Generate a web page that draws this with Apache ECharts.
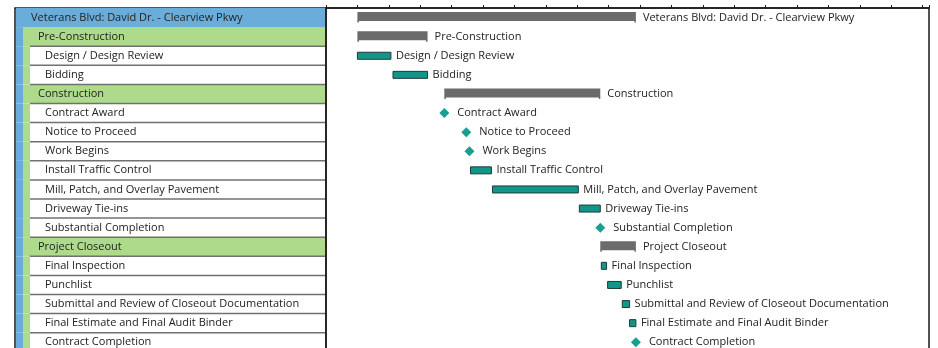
<!DOCTYPE html>
<html>
<head>
<meta charset="utf-8">
<script src="https://cdn.jsdelivr.net/npm/echarts@6/dist/echarts.min.js"></script>
<style>
    html, body { margin: 0; padding: 0; background: #fff; }
    #main { width: 938px; height: 348px; }
</style>
</head>
<body>
<div id="main"></div>
<script>
// rows of the schedule, top to bottom
var taskNames = [
    'Veterans Blvd: David Dr. - Clearview Pkwy',
    'Pre-Construction',
    'Design / Design Review',
    'Bidding',
    'Construction',
    'Contract Award',
    'Notice to Proceed',
    'Work Begins',
    'Install Traffic Control',
    'Mill, Patch, and Overlay Pavement',
    'Driveway Tie-ins',
    'Substantial Completion',
    'Project Closeout',
    'Final Inspection',
    'Punchlist',
    'Submittal and Review of Closeout Documentation',
    'Final Estimate and Final Audit Binder',
    'Contract Completion'
];
// 0 = project, 1 = phase, 2 = task
var taskLevels = [0, 1, 2, 2, 1, 2, 2, 2, 2, 2, 2, 2, 1, 2, 2, 2, 2, 2];
var taskKinds = ['summary', 'summary', 'task', 'task', 'summary', 'milestone', 'milestone', 'milestone',
    'task', 'task', 'task', 'milestone', 'summary', 'task', 'task', 'task', 'task', 'milestone'];
// days from project start
var taskStarts = [0, 0, 0, 34, 83, 83, 104, 107, 108, 129, 212, 232, 232, 233, 239, 253, 260, 266];
var taskEnds = [266, 67, 32, 67, 232, 83, 104, 107, 128, 211, 232, 232, 266, 238, 252, 260, 266, 266];

var FONT = '"Open Sans", "Noto Sans", sans-serif';
var TEXT_COLOR = '#222';

var chart = echarts.init(document.getElementById('main'));

function renderTableRow(params, api) {
    var row = api.value(0);
    var level = taskLevels[row];
    var cs = params.coordSys;
    var x0 = cs.x + 1;
    var x1 = cs.x + cs.width - 1;
    var cy = api.coord([0, row])[1];
    var h = api.size([0, 1])[1];
    var top = cy - h / 2;
    var children = [];
    var textX;
    if (level === 0) {
        children.push({type: 'rect', shape: {x: x0, y: top, width: x1 - x0, height: h}, style: {fill: '#6aaddb'}});
        textX = x0 + 15;
    } else {
        children.push({type: 'rect', shape: {x: x0, y: top, width: 7, height: h}, style: {fill: '#6aaddb'}});
        if (level === 1) {
            children.push({type: 'rect', shape: {x: x0 + 7, y: top, width: x1 - x0 - 7, height: h}, style: {fill: '#addb8b'}});
            textX = x0 + 22;
        } else {
            children.push({type: 'rect', shape: {x: x0 + 7, y: top, width: 7, height: h}, style: {fill: '#addb8b'}});
            children.push({type: 'rect', shape: {x: x0 + 14, y: top, width: x1 - x0 - 14, height: h}, style: {fill: '#fff'}});
            textX = x0 + 29;
        }
        if (row >= 2) {
            children.push({
                type: 'line',
                shape: {x1: x0 + 14, y1: top, x2: x1, y2: top},
                style: {stroke: '#707070', lineWidth: 1.5}
            });
        }
    }
    children.push({
        type: 'text',
        style: {
            x: textX, y: cy, text: taskNames[row],
            fill: TEXT_COLOR, font: '11px ' + FONT,
            verticalAlign: 'middle', align: 'left'
        }
    });
    return {type: 'group', children: children};
}

function renderGanttRow(params, api) {
    var row = api.value(0);
    var kind = taskKinds[row];
    var start = api.coord([api.value(1), row]);
    var end = api.coord([api.value(2), row]);
    var cy = start[1];
    var children = [];
    var labelX;
    if (kind === 'summary') {
        children.push({type: 'rect', shape: {x: start[0], y: cy - 5.5, width: end[0] - start[0], height: 9}, style: {fill: '#6b6b6b'}});
        children.push({type: 'rect', shape: {x: start[0], y: cy + 3, width: 1.5, height: 2}, style: {fill: '#6b6b6b'}});
        children.push({type: 'rect', shape: {x: end[0] - 1.5, y: cy + 3, width: 1.5, height: 2}, style: {fill: '#6b6b6b'}});
        labelX = end[0] + 7;
    } else if (kind === 'task') {
        children.push({
            type: 'rect',
            shape: {x: start[0], y: cy - 3.5, width: end[0] - start[0], height: 7},
            style: {fill: '#12968a', stroke: '#1d3a37', lineWidth: 1}
        });
        labelX = end[0] + 5;
    } else {
        var r = 5;
        children.push({
            type: 'polygon',
            shape: {points: [[start[0], cy - r], [start[0] + r, cy], [start[0], cy + r], [start[0] - r, cy]]},
            style: {fill: '#17a090'}
        });
        labelX = start[0] + 13;
    }
    children.push({
        type: 'text',
        style: {
            x: labelX, y: cy, text: taskNames[row],
            fill: TEXT_COLOR, font: '11px ' + FONT,
            verticalAlign: 'middle', align: 'left'
        }
    });
    return {type: 'group', children: children};
}

var rowHeight = 19.1;
var option = {
    animation: false,
    grid: [{
        left: 15, top: 8, width: 311, height: rowHeight * taskNames.length,
        outerBoundsMode: 'none',
        show: true, borderColor: '#1a1a1a', borderWidth: 1.5
    }, {
        left: 326, right: 9, top: 8, height: rowHeight * taskNames.length,
        outerBoundsMode: 'none',
        show: true, borderColor: '#1a1a1a', borderWidth: 1.5
    }],
    xAxis: [{
        gridIndex: 0, type: 'value', min: 0, max: 1, show: false
    }, {
        gridIndex: 1, type: 'value', position: 'top',
        min: -30, max: 546, interval: 30,
        axisLine: {show: true, lineStyle: {color: '#1a1a1a', width: 1.5}},
        axisTick: {show: true, inside: false, length: 3, lineStyle: {color: '#1a1a1a'}},
        axisLabel: {show: false},
        splitLine: {show: false}
    }],
    yAxis: [{
        gridIndex: 0, type: 'category', inverse: true, data: taskNames, show: false
    }, {
        gridIndex: 1, type: 'category', inverse: true, data: taskNames, show: false
    }],
    series: [{
        type: 'custom',
        xAxisIndex: 0, yAxisIndex: 0,
        clip: false,
        renderItem: renderTableRow,
        encode: {y: 0},
        data: taskNames.map(function (name, i) { return [i]; })
    }, {
        type: 'custom',
        xAxisIndex: 1, yAxisIndex: 1,
        clip: false,
        renderItem: renderGanttRow,
        encode: {x: [1, 2], y: 0},
        data: taskNames.map(function (name, i) { return [i, taskStarts[i], taskEnds[i]]; })
    }]
};

chart.setOption(option);
</script>
</body>
</html>
